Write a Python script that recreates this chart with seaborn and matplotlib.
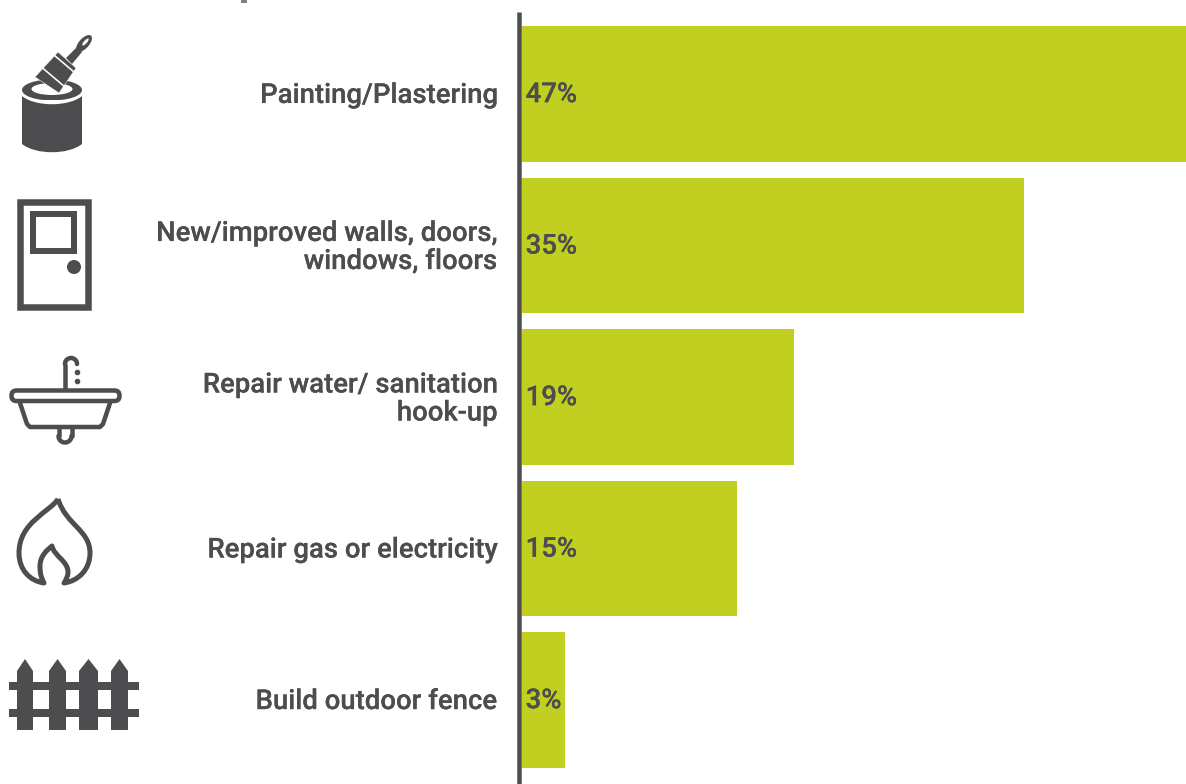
import matplotlib
matplotlib.use("Agg")
import matplotlib.pyplot as plt
import matplotlib.patheffects as pe
import numpy as np
import pandas as pd
import seaborn as sns
from matplotlib.patches import Circle, Ellipse, FancyBboxPatch, PathPatch, Polygon, Rectangle
from matplotlib.path import Path
from matplotlib.transforms import ScaledTranslation

categories = [
    "Painting/Plastering",
    "New/improved walls, doors,\nwindows, floors",
    "Repair water/ sanitation\nhook-up",
    "Repair gas or electricity",
    "Build outdoor fence",
]
shares = [47, 35, 19, 15, 3]

INK = "#4d4d4f"
BAR = "#c1cf20"
W, H = 1186, 784

sns.set_theme(style="white")
plt.rcParams["font.family"] = ["Roboto", "DejaVu Sans"]

fig = plt.figure(figsize=(W / 100, H / 100), dpi=100, facecolor="white")
ax = fig.add_axes([521.5 / W, 0, (W - 521.5) / W, 1])

df = pd.DataFrame({"task": categories, "share": shares})
sns.barplot(data=df, x="share", y="task", color=BAR, saturation=1, width=0.897,
            linewidth=0, edgecolor=BAR, ax=ax)
ax.set_xlim(0, 46.3)
ax.set_ylim(4.554, -0.62)
ax.set_xlabel("")
ax.set_ylabel("")
ax.set_xticks([])
sns.despine(ax=ax, left=True, bottom=True)
ax.tick_params(axis="y", length=0, pad=17.3)
heavier = [pe.withStroke(linewidth=0.12, foreground=INK)]
nudge = ScaledTranslation(0, 1.5 / 100, fig.dpi_scale_trans)
for lab in ax.get_yticklabels():
    lab.set_fontsize(19.8)
    lab.set_fontweight("medium")
    lab.set_color(INK)
    lab.set_linespacing(1.05)
    lab.set_ha("right")
    lab.set_path_effects(heavier)
    lab.set_transform(lab.get_transform() + nudge)

for i, v in enumerate(shares):
    ax.annotate(f"{v}%", (0, i), xytext=(3, -0.5), textcoords="offset points",
                va="center", ha="left", fontsize=19.8, fontweight="medium", color=INK,
                path_effects=heavier)

# Overlay in pixel units for the axis rule and the pictograms
ov = fig.add_axes([0, 0, 1, 1], facecolor="none")
ov.set_xlim(0, W)
ov.set_ylim(H, 0)
ov.axis("off")
px = 0.72  # one pixel expressed in points

ov.plot([519, 519], [12, H], color=INK, lw=4.5 * px, solid_capstyle="butt")
# Descender of the heading cut off by the top edge
ov.add_patch(Rectangle((241, 0), 6, 3, fc="#808082", lw=0))

# Paint can and brush
ov.add_patch(Ellipse((52, 90), 60, 21, color=INK, lw=0))
ov.add_patch(Ellipse((52, 89), 41, 12, color="white", lw=0))
ov.add_patch(PathPatch(Path(
    [(21, 93), (36, 105), (68, 105), (83, 93), (83, 100), (83, 100), (21, 100), (21, 100), (21, 93)],
    [Path.MOVETO, Path.CURVE4, Path.CURVE4, Path.CURVE4, Path.LINETO, Path.LINETO, Path.LINETO, Path.LINETO, Path.CLOSEPOLY]),
    color="white", lw=0, zorder=2))
ov.add_patch(PathPatch(Path(
    [(22, 96), (35, 107), (69, 107), (82, 96), (82, 144), (68, 155), (36, 155), (22, 144), (22, 96)],
    [Path.MOVETO, Path.CURVE4, Path.CURVE4, Path.CURVE4, Path.LINETO, Path.CURVE4, Path.CURVE4, Path.CURVE4, Path.CLOSEPOLY]),
    color=INK, lw=0, zorder=3))
ov.add_patch(Polygon([(58, 52), (76, 68), (59, 93), (35, 77)], closed=True, fc=INK, ec="white", lw=0.5 * px, zorder=4))
ov.plot([54.5, 74], [55.5, 72], color="white", lw=1.6 * px, zorder=5)
ov.plot([42, 65], [67.5, 87], color="white", lw=1.6 * px, zorder=5)
ov.add_patch(Polygon([(66, 58), (72, 64), (82, 52), (77, 47)], closed=True, fc=INK, lw=0, zorder=4))
ov.add_patch(Ellipse((84, 43.5), 10, 21, angle=42, fc=INK, lw=0, zorder=4))
ov.add_patch(Ellipse((85.5, 42), 3, 9, angle=42, fc="white", lw=0, zorder=5))

# Door
ov.add_patch(Rectangle((20, 202), 68, 105, fc="none", ec=INK, lw=6.5 * px))
ov.add_patch(Rectangle((33, 214), 41, 37, fc="none", ec=INK, lw=6 * px))
ov.add_patch(Circle((74, 267), 7, fc=INK, lw=0))

# Sink
lw_sink = 4.5 * px
ov.add_patch(FancyBboxPatch((11.5, 390.5), 108, 10.5, boxstyle="round,pad=0,rounding_size=5",
                            fc="none", ec=INK, lw=lw_sink))
ov.plot([20, 27, 30, 100, 103, 110], [403, 424, 427, 427, 424, 403], color=INK, lw=lw_sink, solid_joinstyle="round")
ov.plot([58.5, 58.5], [428, 436], color=INK, lw=lw_sink)
ov.plot([71.5, 71.5], [428, 436], color=INK, lw=lw_sink)
t = np.linspace(0, np.pi, 30)
ov.plot(65 + 6.5 * np.cos(t), 436 + 6.5 * np.sin(t), color=INK, lw=lw_sink)
ov.plot([65, 65], [388, 365], color=INK, lw=lw_sink)
t = np.linspace(np.pi, 2 * np.pi, 30)
ov.plot(71 + 6 * np.cos(t), 364 + 6 * np.sin(t), color=INK, lw=lw_sink, solid_capstyle="round")
ov.add_patch(Circle((77.5, 372.5), 2.8, fc=INK, lw=0))
ov.add_patch(Circle((77.5, 381.5), 2.8, fc=INK, lw=0))

# Flame
flame_pts = [
    (58, 499),
    (50, 512), (19, 522), (19, 553),
    (19, 570), (30, 581), (44, 583),
    (41, 577), (40, 574), (40, 566),
    (40, 556), (47, 550), (52, 546),
    (54, 556), (68, 561), (68, 572),
    (68, 576), (66, 580), (64, 583),
    (78, 581), (90, 570), (90, 553),
    (90, 530), (66, 525), (58, 499),
]
flame_codes = [Path.MOVETO] + [Path.CURVE4] * 24
ov.add_patch(PathPatch(Path(flame_pts, flame_codes), fc="none", ec=INK, lw=5 * px, joinstyle="round"))

# Fence
for x0, x1 in [(17, 33), (49, 66), (79, 98), (111, 128)]:
    mid = (x0 + x1) / 2
    ov.add_patch(Polygon([(x0, 730), (x0, 671), (mid, 659), (x1, 671), (x1, 730)], closed=True, fc=INK, lw=0))
for y0 in (682, 709):
    ov.add_patch(Rectangle((9, y0), 130, 8, fc=INK, lw=0))

fig.savefig("out.png", dpi=100, facecolor="white")
